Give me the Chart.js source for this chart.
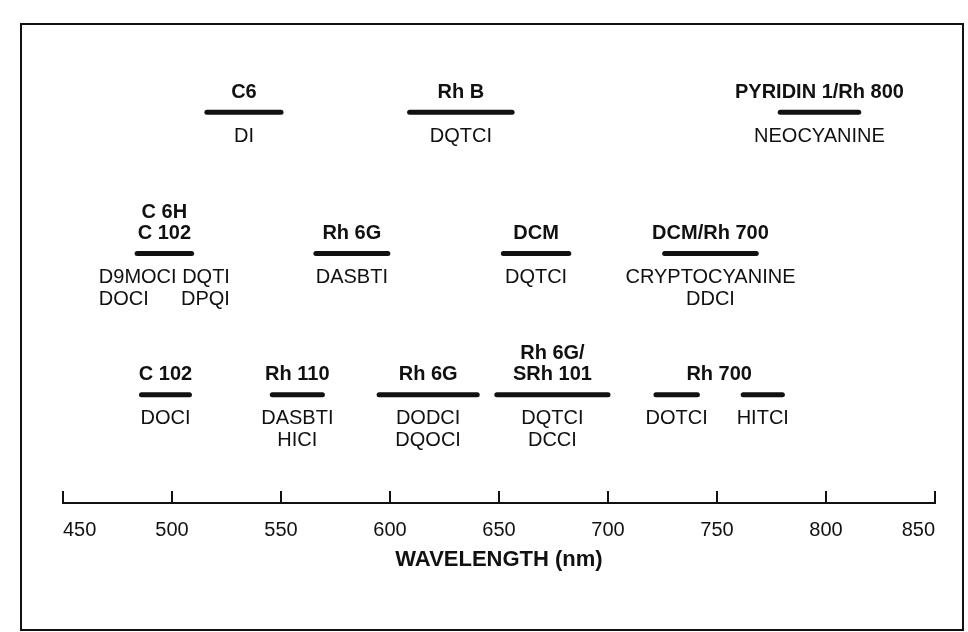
<!DOCTYPE html>
<html>
<head>
<meta charset="utf-8">
<script src="https://cdn.jsdelivr.net/npm/chart.js@4"></script>
<style>
  body { margin: 0; background: #fff; }
  #wrap { position: relative; width: 968px; height: 632px; }
  #frame { position: absolute; left: 20px; top: 23px; width: 940px; height: 604px; border: 2px solid #111; box-sizing: content-box; pointer-events: none; }
</style>
</head>
<body>
<div id="wrap">
  <canvas id="dyeChart"></canvas>
  <div id="frame"></div>
</div>
<script>
// dye name above each bar ("" = shares the label of the bar before it)
const topLabels = ["C6", "Rh B", "PYRIDIN 1/Rh 800",
  "C 6H\nC 102", "Rh 6G", "DCM", "DCM/Rh 700",
  "C 102", "Rh 110", "Rh 6G", "Rh 6G/\nSRh 101", "Rh 700", ""];
// pumped dyes / saturable absorbers below each bar
const bottomLabels = ["DI", "DQTCI", "NEOCYANINE",
  "D9MOCI DQTI\nDOCI\tDPQI", "DASBTI", "DQTCI", "CRYPTOCYANINE\nDDCI",
  "DOCI", "DASBTI\nHICI", "DODCI\nDQOCI", "DQTCI\nDCCI", "DOTCI", "HITCI"];
const rows = [1, 1, 1, 2, 2, 2, 2, 3, 3, 3, 3, 3, 3];
const rangeStart = [516, 609, 779, 484, 566, 652, 726, 486, 546, 595, 649, 722, 762];
const rangeEnd = [550, 656, 815, 509, 599, 682, 768, 508, 569, 640, 700, 741, 780];
const tickValues = [450, 500, 550, 600, 650, 700, 750, 800, 850];
const axisTitle = "WAVELENGTH (nm)";

const FONT = "'Liberation Sans', Arial, Helvetica, sans-serif";

const datasets = rangeStart.map((start, i) => ({
  label: topLabels[i] || topLabels[i - 1],
  data: [{ x: start, y: rows[i] }, { x: rangeEnd[i], y: rows[i] }],
  borderColor: "#111",
  borderWidth: 5,
  borderCapStyle: "round",
  pointRadius: 0,
  fill: false
}));

const labelPlugin = {
  id: "dyeLabels",
  afterDatasetsDraw(chart) {
    const ctx = chart.ctx;
    ctx.save();
    ctx.fillStyle = "#111";
    ctx.textBaseline = "middle";
    ctx.textAlign = "center";

    rangeStart.forEach((s, i) => {
      const pts = chart.getDatasetMeta(i).data;
      const left = pts[0].x;
      const y = pts[0].y;
      const cx = (left + pts[1].x) / 2;

      // top label, spread over following unlabelled bars in the same row
      if (topLabels[i]) {
        let right = pts[1].x;
        let j = i + 1;
        while (j < topLabels.length && topLabels[j] === "" && rows[j] === rows[i]) {
          right = chart.getDatasetMeta(j).data[1].x;
          j++;
        }
        const tx = (left + right) / 2;
        ctx.font = "bold 20px " + FONT;
        const lines = topLabels[i].split("\n").reverse();
        lines.forEach((line, k) => {
          ctx.fillText(line, tx, y - 20 - k * 21);
        });
      }

      // bottom label
      ctx.font = "20px " + FONT;
      const lines = bottomLabels[i].split("\n");
      let prevWidth = 0;
      lines.forEach((line, k) => {
        const ly = y + 24 + k * 22;
        if (line.includes("\t")) {
          const parts = line.split("\t");
          ctx.textAlign = "left";
          ctx.fillText(parts[0], cx - prevWidth / 2, ly);
          ctx.textAlign = "right";
          ctx.fillText(parts[1], cx + prevWidth / 2, ly);
          ctx.textAlign = "center";
        } else {
          ctx.fillText(line, cx, ly);
          prevWidth = ctx.measureText(line).width;
        }
      });
    });
    ctx.restore();
  }
};

// tick marks stand up from the axis line, title sits under the numbers
const axisExtras = {
  id: "axisExtras",
  afterDraw(chart) {
    const x = chart.scales.x;
    const ctx = chart.ctx;
    ctx.save();
    ctx.strokeStyle = "#111";
    ctx.lineWidth = 2;
    tickValues.forEach(v => {
      const px = x.getPixelForValue(v);
      ctx.beginPath();
      ctx.moveTo(px, x.top);
      ctx.lineTo(px, x.top - 12);
      ctx.stroke();
    });
    ctx.fillStyle = "#111";
    ctx.font = "bold 22px " + FONT;
    ctx.textAlign = "center";
    ctx.textBaseline = "middle";
    ctx.fillText(axisTitle, (x.left + x.right) / 2, x.top + 57);
    ctx.restore();
  }
};

new Chart(document.getElementById("dyeChart"), {
  type: "line",
  data: { datasets },
  options: {
    responsive: true,
    maintainAspectRatio: false,
    animation: false,
    layout: { padding: { left: 63, right: 33, top: 24, bottom: 83 } },
    plugins: { legend: { display: false }, tooltip: { enabled: false } },
    scales: {
      x: {
        type: "linear",
        min: 450,
        max: 850,
        afterBuildTicks: axis => { axis.ticks = tickValues.map(v => ({ value: v })); },
        grid: { display: false },
        border: { display: true, color: "#111", width: 2 },
        ticks: {
          align: "inner",
          padding: 7,
          color: "#111",
          font: { family: FONT, size: 20 }
        }
      },
      y: {
        type: "linear",
        display: false,
        reverse: true,
        min: 0.376,
        max: 3.766
      }
    }
  },
  plugins: [labelPlugin, axisExtras]
});
</script>
</body>
</html>
